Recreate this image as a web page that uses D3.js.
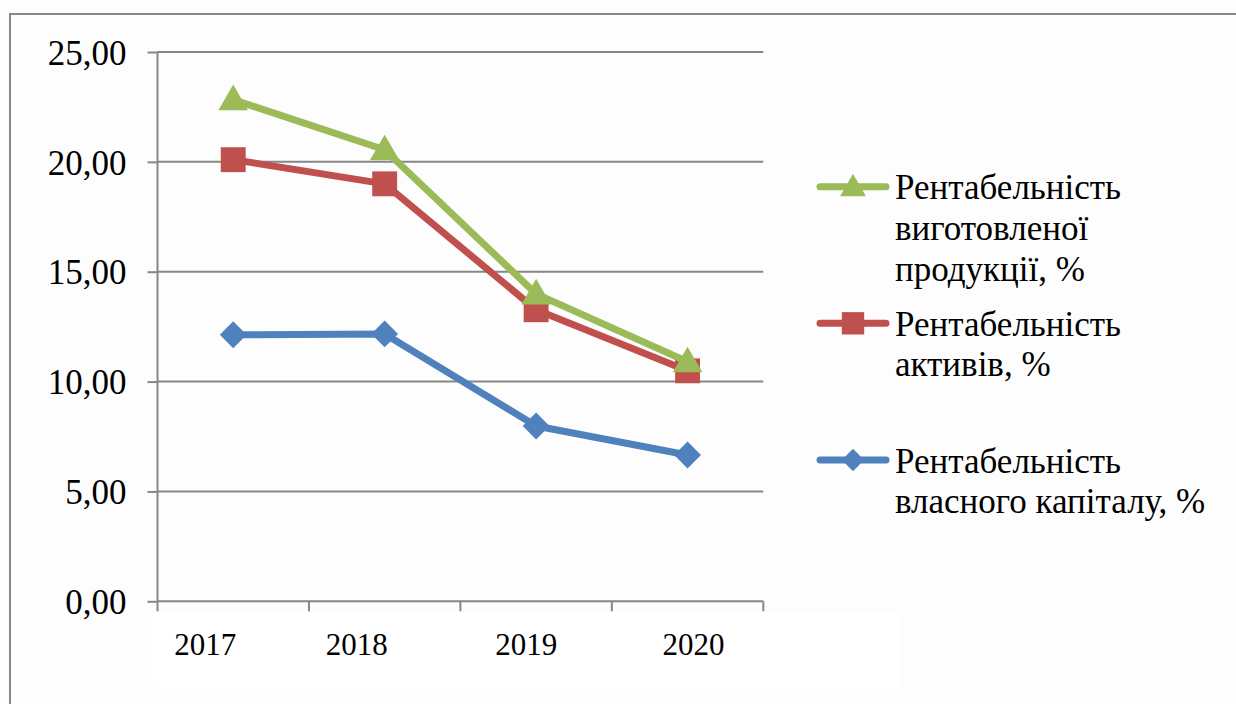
<!DOCTYPE html>
<html><head><meta charset="utf-8">
<script src="https://cdn.jsdelivr.net/npm/d3@7"></script>
<style>html,body{margin:0;padding:0;background:#fdfdfd;}svg{display:block;}</style>
</head><body>
<svg id="c" width="1236" height="704"></svg>
<script>
const years = ["2017", "2018", "2019", "2020"];
const yTicks = [0, 5, 10, 15, 20, 25];
const productValues = [22.83, 20.55, 13.99, 10.90];
const assetsValues = [20.10, 19.00, 13.27, 10.49];
const equityValues = [12.13, 12.17, 7.98, 6.66];
const seriesNames = ["Рентабельність виготовленої продукції, %", "Рентабельність активів, %", "Рентабельність власного капіталу, %"];
const legendLines = [["Рентабельність", "виготовленої", "продукції, %"], ["Рентабельність", "активів, %"], ["Рентабельність", "власного капіталу, %"]];
const colors = ["#9BBB59", "#C0504D", "#4F81BD"];
// layout: horizontal nudges of the year labels (as placed in the original)
const xLabelNudge = [-28, -28, -10, 6];
const SERIF = '"Liberation Serif"';

const series = [
  {name: seriesNames[2], values: equityValues, color: colors[2], sym: "diamond", size: 360, legendSize: 250},
  {name: seriesNames[1], values: assetsValues, color: colors[1], sym: "square", size: 620, legendSize: 500},
  {name: seriesNames[0], values: productValues, color: colors[0], sym: "triangle", size: 380, legendSize: 290}
];
const symType = {diamond: d3.symbolSquare, square: d3.symbolSquare, triangle: d3.symbolTriangle};
const symRot = {diamond: 45, square: 0, triangle: 0};
const symDy = {diamond: 0, square: 0, triangle: 2};

const svg = d3.select("#c");
const L = 157.5, R = 763.3, T = 52, B = 601.3;

svg.append("rect").attr("x", 10).attr("y", 14).attr("width", 1300).attr("height", 800)
  .attr("fill", "none").attr("stroke", "#888").attr("stroke-width", 2);
// white label box under x axis
svg.append("rect").attr("x", 153).attr("y", 613).attr("width", 747).attr("height", 74).attr("fill", "#fff");

const x = d3.scaleBand().domain(years).range([L, R]).padding(0);
const y = d3.scaleLinear().domain([0, 25]).range([B, T]);

svg.append("g").selectAll("line").data(yTicks.filter(d => d > 0)).join("line")
  .attr("x1", L).attr("x2", R).attr("y1", d => y(d)).attr("y2", d => y(d))
  .attr("stroke", "#868686").attr("stroke-width", 2);

const yAxis = svg.append("g").attr("transform", `translate(${L},0)`)
  .call(d3.axisLeft(y).tickValues(yTicks).tickSize(10).tickPadding(21)
    .tickFormat(d => d3.format(".2f")(d).replace(".", ",")));
yAxis.attr("font-family", null).attr("font-size", null);
yAxis.selectAll("path,line").attr("stroke", "#868686").attr("stroke-width", 2);
yAxis.select(".domain").attr("d", `M0,${B}V${T}`);
yAxis.selectAll("text").attr("fill", "#000").attr("dy", "0.35em")
  .style("font-size", "35px").style("font-family", SERIF);

const xAxis = svg.append("g").attr("transform", `translate(0,${B})`)
  .call(d3.axisBottom(x).tickSize(0).tickPadding(0));
xAxis.attr("font-family", null).attr("font-size", null);
xAxis.select(".domain").attr("d", `M${L},0H${R}`).attr("stroke", "#868686").attr("stroke-width", 2);
xAxis.selectAll("text").attr("fill", "#000").attr("y", 53.7).attr("dy", 0)
  .attr("x", (d, i) => xLabelNudge[i])
  .style("font-size", "31px").style("font-family", SERIF);
const bounds = years.map(d => x(d)).concat([x(years[years.length - 1]) + x.bandwidth()]);
svg.append("g").selectAll("line").data(bounds).join("line")
  .attr("x1", d => d).attr("x2", d => d).attr("y1", B).attr("y2", B + 10)
  .attr("stroke", "#868686").attr("stroke-width", 2);

const cx = d => x(d) + x.bandwidth() / 2;
const line = d3.line().x((d, i) => cx(years[i])).y(d => y(d));

series.forEach(s => {
  const g = svg.append("g");
  g.append("path").attr("d", line(s.values)).attr("fill", "none")
    .attr("stroke", s.color).attr("stroke-width", 7).attr("stroke-linejoin", "round");
  g.selectAll("path.m").data(s.values).join("path").attr("class", "m")
    .attr("transform", (d, i) => `translate(${cx(years[i])},${y(d) + symDy[s.sym]}) rotate(${symRot[s.sym]})`)
    .attr("d", d3.symbol().type(symType[s.sym]).size(s.size)).attr("fill", s.color);
});

const legendY = [186.7, 323.3, 460];
const legendOrder = [series[2], series[1], series[0]];
legendOrder.forEach((s, i) => {
  const g = svg.append("g").attr("transform", `translate(0,${legendY[i]})`);
  g.append("line").attr("x1", 820).attr("x2", 886).attr("y1", 0).attr("y2", 0)
    .attr("stroke", s.color).attr("stroke-width", 7).attr("stroke-linecap", "round");
  g.append("path").attr("transform", `translate(853,${symDy[s.sym]}) rotate(${symRot[s.sym]})`)
    .attr("d", d3.symbol().type(symType[s.sym]).size(s.legendSize)).attr("fill", s.color);
  legendLines[i].forEach((t, j) => {
    g.append("text").attr("x", 895).attr("y", 12.5 + j * 40.7).attr("fill", "#000")
      .style("font-size", "35px").style("font-family", SERIF).text(t);
  });
});
</script>
</body></html>
